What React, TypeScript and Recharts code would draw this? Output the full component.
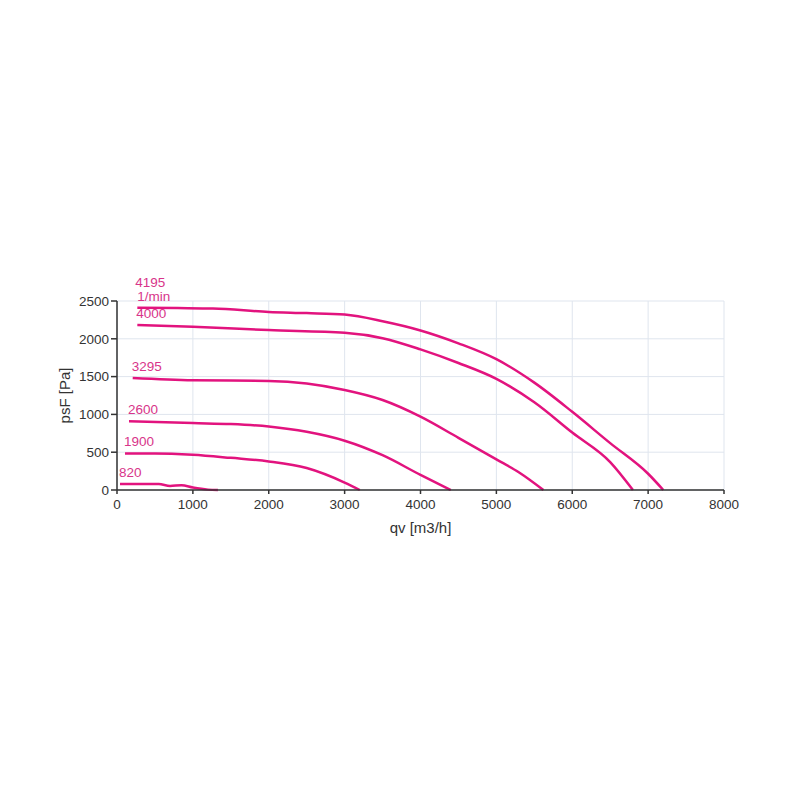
import { LineChart, Line, XAxis, YAxis, CartesianGrid } from "recharts";

// fan curves: [qv m3/h, psF Pa] per speed
const curve4195 = [
  [268, 2411], [800, 2406], [1265, 2400], [2000, 2355], [2500, 2340], [3000, 2320],
  [3500, 2232], [4000, 2110], [4500, 1940], [5000, 1730], [5500, 1420], [6000, 1034],
  [6500, 620], [7000, 215], [7200, 0],
];
const curve4000 = [
  [268, 2183], [1000, 2160], [2000, 2115], [3000, 2080], [3500, 2008], [4000, 1860],
  [4500, 1680], [5000, 1470], [5500, 1160], [6000, 760], [6500, 370], [6800, 0],
];
const curve3295 = [
  [207, 1482], [1000, 1452], [2000, 1443], [2500, 1408], [3000, 1322], [3500, 1190],
  [4000, 970], [4500, 690], [5000, 405], [5300, 232], [5620, 0],
];
const curve2600 = [
  [158, 911], [1000, 885], [1500, 872], [2000, 840], [2500, 770], [3000, 652],
  [3500, 460], [4000, 200], [4400, 0],
];
const curve1900 = [
  [105, 484], [500, 484], [1000, 466], [1500, 425], [2000, 378], [2500, 290],
  [3000, 98], [3200, 0],
];
const curve820 = [
  [40, 79], [550, 79], [700, 54], [850, 62], [1000, 32], [1200, 5], [1330, 0],
];

const curves = [
  { name: "4195", points: curve4195, unit: "1/min" },
  { name: "4000", points: curve4000 },
  { name: "3295", points: curve3295 },
  { name: "2600", points: curve2600 },
  { name: "1900", points: curve1900 },
  { name: "820", points: curve820 },
];

const xTicks = [0, 1000, 2000, 3000, 4000, 5000, 6000, 7000, 8000];
const yTicks = [0, 500, 1000, 1500, 2000, 2500];

const LINE = "#e2137e";
const TEXT = "#d8358a";
const FONT = "'Liberation Sans', Arial, sans-serif";

function startLabel(name: string, unit?: string) {
  return (props: any) => {
    if (props.index !== 0) return <g />;
    const { x, y } = props;
    if (unit) {
      return (
        <g>
          <text x={x - 2} y={y - 21} fill={TEXT} fontSize={13.5} fontFamily={FONT}>{name}</text>
          <text x={x} y={y - 7} fill={TEXT} fontSize={13.5} fontFamily={FONT}>{unit}</text>
        </g>
      );
    }
    return (
      <text x={x - 1} y={y - 7} fill={TEXT} fontSize={13.5} fontFamily={FONT}>{name}</text>
    );
  };
}

export default function App() {
  return (
    <div style={{ position: "absolute", left: 0, top: 0, width: 800, height: 800, background: "#fff" }}>
      <LineChart width={800} height={800} margin={{ top: 301, right: 76, bottom: 260, left: 57 }}>
        <CartesianGrid stroke="#dfe5ee" strokeWidth={1} />
        <XAxis
          type="number"
          dataKey="x"
          domain={[0, 8000]}
          ticks={xTicks}
          height={50}
          stroke="#333"
          strokeWidth={1.5}
          tickSize={4}
          tickMargin={5}
          tick={{ fill: "#333", fontSize: 13.5, fontFamily: FONT }}
          label={{ value: "qv [m3/h]", position: "insideBottom", offset: 7, fill: "#333", fontSize: 15, fontFamily: FONT }}
        />
        <YAxis
          type="number"
          domain={[0, 2500]}
          ticks={yTicks}
          width={60}
          stroke="#333"
          strokeWidth={1.5}
          tickSize={6}
          tickMargin={2}
          tick={{ fill: "#333", fontSize: 13.5, fontFamily: FONT }}
          label={{ value: "psF [Pa]", angle: -90, position: "insideLeft", offset: 8, fill: "#333", fontSize: 15, fontFamily: FONT, style: { textAnchor: "middle" } }}
        />
        {curves.map((c) => (
          <Line
            key={c.name}
            data={c.points.map(([x, y]) => ({ x, y }))}
            dataKey="y"
            type="monotone"
            stroke={LINE}
            strokeWidth={2.5}
            dot={false}
            isAnimationActive={false}
            label={startLabel(c.name, c.unit)}
          />
        ))}
      </LineChart>
    </div>
  );
}
